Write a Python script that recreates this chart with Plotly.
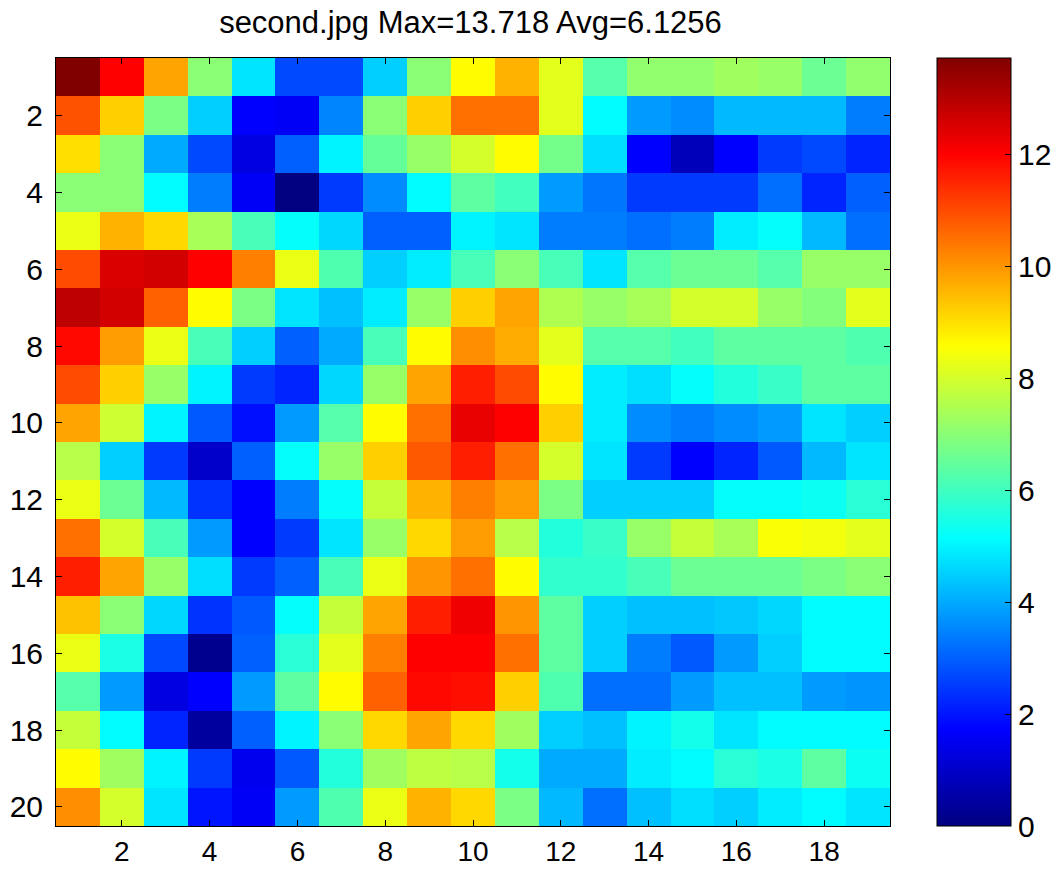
import plotly.graph_objects as go

columns = list(range(1, 20))
rows = list(range(1, 21))

values = [
    [13.718, 12.0, 9.8, 7.0, 4.8, 2.7, 2.7, 4.5, 7.0, 8.6, 9.6, 8.2, 6.3, 7.1, 7.1, 7.3, 7.2, 6.6, 7.1],
    [10.9, 9.2, 6.8, 4.5, 1.7, 1.6, 3.5, 7.0, 9.2, 10.5, 10.5, 8.2, 5.1, 3.8, 3.6, 4.2, 4.2, 4.2, 3.4],
    [9.0, 7.0, 4.0, 2.7, 1.3, 3.0, 5.0, 6.5, 7.2, 8.0, 8.6, 6.7, 4.7, 1.7, 0.8, 1.7, 2.5, 2.7, 2.2],
    [7.0, 7.0, 5.1, 3.4, 1.6, 0.0, 2.5, 3.6, 5.1, 6.4, 6.0, 3.8, 3.3, 2.5, 2.5, 2.5, 3.2, 2.2, 3.0],
    [8.3, 9.6, 9.1, 7.4, 6.1, 5.2, 4.6, 3.0, 3.0, 5.0, 4.8, 3.4, 3.4, 3.2, 3.4, 4.9, 5.2, 4.2, 3.2],
    [11.0, 12.5, 12.6, 12.0, 10.3, 8.3, 6.2, 4.5, 4.9, 6.1, 7.0, 6.1, 4.8, 6.3, 6.6, 6.6, 6.3, 7.2, 7.2],
    [12.9, 12.6, 10.7, 8.6, 6.8, 4.8, 4.3, 4.9, 7.2, 9.2, 9.8, 7.5, 7.2, 7.4, 8.0, 8.0, 7.2, 6.9, 8.2],
    [11.9, 9.9, 8.3, 6.1, 4.5, 3.0, 4.0, 6.1, 8.6, 10.1, 9.7, 8.2, 6.3, 6.3, 6.0, 6.4, 6.4, 6.4, 6.2],
    [11.0, 9.2, 7.2, 5.0, 2.5, 2.2, 4.6, 7.2, 9.8, 11.6, 11.0, 8.6, 4.9, 4.7, 5.2, 5.6, 5.9, 6.4, 6.4],
    [9.8, 7.9, 5.0, 2.9, 1.9, 3.8, 6.3, 8.6, 10.5, 12.3, 12.0, 9.2, 4.9, 3.6, 3.4, 3.6, 3.8, 4.8, 4.5],
    [7.6, 4.5, 2.5, 1.0, 3.0, 5.2, 7.2, 9.2, 10.8, 11.6, 10.5, 8.0, 4.8, 2.5, 1.7, 2.2, 2.9, 4.2, 4.8],
    [8.3, 6.6, 4.2, 2.4, 1.7, 3.4, 5.2, 7.8, 9.6, 10.3, 9.9, 6.8, 4.5, 4.5, 4.5, 5.2, 5.2, 5.3, 5.7],
    [10.5, 8.0, 6.1, 3.8, 1.7, 2.5, 4.8, 7.2, 9.1, 9.9, 7.6, 5.6, 5.9, 7.2, 7.8, 7.4, 8.5, 8.4, 8.2],
    [11.6, 9.8, 7.2, 4.7, 2.5, 3.0, 6.1, 8.3, 10.0, 10.5, 8.6, 5.8, 5.8, 6.1, 6.6, 6.6, 6.6, 6.8, 7.0],
    [9.4, 7.0, 4.6, 2.4, 2.9, 5.2, 7.8, 9.8, 11.6, 12.2, 10.0, 6.4, 4.5, 4.3, 4.3, 4.4, 4.6, 5.1, 5.1],
    [8.3, 5.5, 2.7, 0.2, 3.0, 5.7, 8.2, 10.3, 12.0, 12.0, 10.5, 6.4, 4.5, 3.4, 2.9, 3.8, 4.5, 5.1, 5.1],
    [6.3, 3.8, 1.3, 1.7, 3.8, 6.4, 8.6, 10.7, 11.9, 11.8, 9.2, 6.2, 3.2, 3.2, 3.8, 4.3, 4.3, 3.8, 3.7],
    [7.8, 5.1, 2.2, 0.4, 3.0, 5.0, 7.0, 9.1, 9.8, 9.1, 7.3, 4.5, 4.3, 5.0, 5.4, 4.8, 5.1, 5.1, 5.1],
    [8.6, 7.3, 5.0, 2.5, 1.5, 2.9, 5.6, 7.3, 7.7, 7.6, 5.4, 4.0, 4.0, 4.9, 5.1, 5.7, 5.5, 6.4, 5.3],
    [10.1, 8.0, 4.8, 2.0, 1.6, 3.8, 6.2, 8.3, 9.6, 9.1, 6.8, 4.2, 3.2, 4.3, 4.7, 4.5, 4.9, 5.1, 4.8],
]

x_ticks = [2, 4, 6, 8, 10, 12, 14, 16, 18]
y_ticks = [2, 4, 6, 8, 10, 12, 14, 16, 18, 20]
cbar_ticks = [0, 2, 4, 6, 8, 10, 12]
title_text = "second.jpg Max=13.718 Avg=6.1256"

jet = [
    [0.0, "rgb(0,0,128)"],
    [0.125, "rgb(0,0,255)"],
    [0.375, "rgb(0,255,255)"],
    [0.625, "rgb(255,255,0)"],
    [0.875, "rgb(255,0,0)"],
    [1.0, "rgb(128,0,0)"],
]

family = "Liberation Sans, Arial, sans-serif"
font = dict(family=family, size=30, color="black")
xfont = dict(family=family, size=28, color="black")

fig = go.Figure(
    go.Heatmap(
        z=values,
        x=columns,
        y=rows,
        colorscale=jet,
        zmin=0,
        zmax=13.718,
        colorbar=dict(
            thickness=74,
            thicknessmode="pixels",
            len=1,
            lenmode="fraction",
            x=(937 - 56) / 834,
            xanchor="left",
            y=0.5,
            yanchor="middle",
            xpad=0,
            ypad=0,
            outlinewidth=1,
            outlinecolor="black",
            tickvals=cbar_ticks,
            ticks="inside",
            ticklen=6,
            tickcolor="black",
            tickfont=font,
        ),
    )
)

fig.update_layout(
    width=1063,
    height=871,
    margin=dict(l=56, r=173, t=58, b=45, autoexpand=False),
    paper_bgcolor="white",
    plot_bgcolor="white",
    font=font,
    title=dict(
        text=title_text,
        x=(217 + 724) / 2 / 1063,
        xanchor="center",
        y=1 - 22 / 871,
        yanchor="middle",
        font=dict(family=family, size=31, color="black"),
    ),
)

fig.update_xaxes(
    range=[0.5, 19.5],
    tickvals=x_ticks,
    ticks="inside",
    ticklen=6,
    tickcolor="black",
    showline=True,
    linecolor="black",
    linewidth=1,
    mirror="allticks",
    showgrid=False,
    zeroline=False,
    tickfont=xfont,
    ticklabelstandoff=0,
    automargin=False,
)
fig.update_yaxes(
    range=[20.5, 0.5],
    tickvals=y_ticks,
    ticks="inside",
    ticklen=6,
    tickcolor="black",
    showline=True,
    linecolor="black",
    linewidth=1,
    mirror="allticks",
    showgrid=False,
    zeroline=False,
    tickfont=font,
    ticklabelstandoff=6,
    automargin=False,
)

fig.write_html("out.html")
